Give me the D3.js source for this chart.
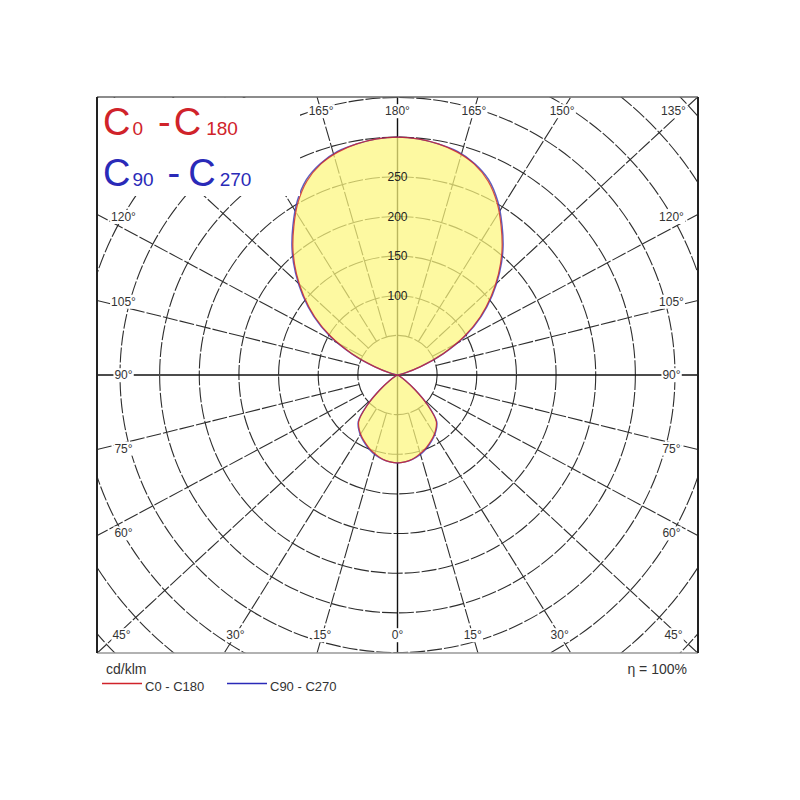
<!DOCTYPE html>
<html><head><meta charset="utf-8">
<script src="https://cdn.jsdelivr.net/npm/d3@7"></script>
<style>
body{margin:0;background:#fff;}
text{font-family:"Liberation Sans",Arial,sans-serif;}
</style>
</head><body>
<svg id="chart" width="800" height="800"></svg>
<script>
// gamma angles (deg from nadir), 5° steps
const gammaAngles = [0,5,10,15,20,25,30,35,40,45,50,55,60,65,70,75,80,85,90,95,100,105,110,115,120,125,130,135,140,145,150,155,160,165,170,175,180];
// intensities cd/klm
const c0c180  = [111,110,108,104,100,95,90,84,76,54,28,12,4,1,0,0,0,0,0,0,2,10,31,63,97,127,154,180,205,228,251,270,283,291,296,299,300];
const c90c270 = [111,110,108,105,101,96,91,85,77,55,29,12,4,1,0,0,0,0,0,0,2,10,31,64,99,129,156,182,207,230,253,272,284,292,296,299,300];
const gridValues = [50,100,150,200,250,300,350,400,450,500];
const radialLabels = [100,150,200,250];
const spokeAngles = [0,15,30,45,60,75,90,105,120,135,150,165,180,195,210,225,240,255,270,285,300,315,330,345];
const hiddenLabelAngles = [210,225]; // covered by title legend
const legendItems = [{name:"C0 - C180", color:"#d0232a"},{name:"C90 - C270", color:"#2a2ab8"}];
const unitLabel = "cd/klm";
const etaLabel = "η = 100%";

const svg = d3.select("#chart");
const frame = {x0:97, x1:698, y0:97, y1:653};
const cx = (frame.x0+frame.x1)/2, cy = (frame.y0+frame.y1)/2;
const r = d3.scaleLinear().domain([0,350]).range([0,277.5]);
const k = 1.08;
const rad = d => d*Math.PI/180;

svg.append("rect").attr("width",800).attr("height",800).attr("fill","#fff");
svg.append("defs").append("clipPath").attr("id","clip").append("rect")
  .attr("x",frame.x0).attr("y",frame.y0).attr("width",frame.x1-frame.x0).attr("height",frame.y1-frame.y0);

const g = svg.append("g").attr("clip-path","url(#clip)");
// grid circles
g.selectAll("circle.grid").data(gridValues).join("circle")
  .attr("cx",cx).attr("cy",cy).attr("r",d=>r(d))
  .attr("fill","none").attr("stroke","#2e2e2e").attr("stroke-width",1.1)
  .attr("stroke-dasharray","15,2");
// spokes
const dir = t => { const x = k*Math.sin(rad(t)), y = Math.cos(rad(t)); const n = Math.hypot(x,y); return [x/n,y/n]; };
g.selectAll("line.spoke").data(spokeAngles.filter(a=>a%90!==0)).join("line")
  .attr("x1",d=>cx+dir(d)[0]*r(50)).attr("y1",d=>cy+dir(d)[1]*r(50))
  .attr("x2",d=>cx+dir(d)[0]*900).attr("y2",d=>cy+dir(d)[1]*900)
  .attr("stroke","#2e2e2e").attr("stroke-width",1.1).attr("stroke-dasharray","15,2");
// axes
g.append("line").attr("x1",frame.x0).attr("x2",frame.x1).attr("y1",cy).attr("y2",cy).attr("stroke","#111").attr("stroke-width",1.4);
g.append("line").attr("x1",cx).attr("x2",cx).attr("y1",frame.y0).attr("y2",frame.y1).attr("stroke","#111").attr("stroke-width",1.4);

// curves
function fullCurve(vals){
  const pts = [];
  gammaAngles.forEach((a,i)=>pts.push({t:a,v:vals[i]}));
  for(let i=gammaAngles.length-2;i>0;i--) pts.push({t:360-gammaAngles[i], v:vals[i]});
  return pts;
}
const line = d3.lineRadial().angle(d=>Math.PI - rad(d.t)).radius(d=>r(d.v)).curve(d3.curveCatmullRomClosed.alpha(0.5));
const cg = svg.append("g").attr("transform",`translate(${cx},${cy})`);
cg.append("path").attr("d",line(fullCurve(c90c270))).attr("fill","rgb(252,246,125)").attr("fill-opacity",0.72);
cg.append("path").attr("d",line(fullCurve(c90c270))).attr("fill","none").attr("stroke",legendItems[1].color).attr("stroke-width",1.4).attr("opacity",0.75);
cg.append("path").attr("d",line(fullCurve(c0c180))).attr("fill","none").attr("stroke",legendItems[0].color).attr("stroke-width",1.2).attr("opacity",0.8);

// radial labels
svg.selectAll("text.rl").data(radialLabels).join("text")
  .attr("x",cx).attr("y",d=>cy-r(d)).attr("dy","0.35em").attr("text-anchor","middle")
  .attr("font-size",12).attr("fill","#222").text(d=>d);

// angle labels
function labelPos(t){
  const s = Math.sin(rad(t)), c = Math.cos(rad(t));
  const m = ((t%180)+180)%180;
  if(m>=60 && m<=120){
    const sx = s>0?1:-1;
    return [cx+sx*274, cy+274*c/Math.abs(s)];
  }
  const top = c<0;
  const hh = top?264:260;
  let dx = hh*k*Math.abs(s/c);
  dx = Math.min(dx,276);
  return [cx+(s>=0?1:-1)*dx, cy+(top?-hh:hh)];
}
const lab = svg.append("g");
spokeAngles.filter(a=>!hiddenLabelAngles.includes(a)).forEach(a=>{
  const [x,y] = labelPos(a);
  const txt = (a<=180?a:360-a)+"°";
  const t = lab.append("text").attr("x",x).attr("y",y).attr("dy","0.35em").attr("text-anchor","middle")
    .attr("font-size",12).attr("fill","#333").text(txt);
  const bb = t.node().getBBox();
  lab.insert("rect","text").attr("x",bb.x-1).attr("y",bb.y).attr("width",bb.width+2).attr("height",bb.height).attr("fill","#fff");
});

// title legend box
svg.append("rect").attr("x",frame.x0+1).attr("y",frame.y0+1).attr("width",202).attr("height",98).attr("fill","#fff");
const t1 = svg.append("text").attr("x",103).attr("y",135).attr("fill",legendItems[0].color);
t1.append("tspan").attr("font-size",38).text("C");
t1.append("tspan").attr("font-size",19).attr("dx",2).text("0");
t1.append("tspan").attr("font-size",38).attr("dx",15).text("-");
t1.append("tspan").attr("font-size",38).attr("dx",3).text("C");
t1.append("tspan").attr("font-size",19).attr("dx",5).text("180");
const t2 = svg.append("text").attr("x",103).attr("y",186).attr("fill",legendItems[1].color);
t2.append("tspan").attr("font-size",38).text("C");
t2.append("tspan").attr("font-size",19).attr("dx",2).text("90");
t2.append("tspan").attr("font-size",38).attr("dx",14).text("-");
t2.append("tspan").attr("font-size",38).attr("dx",8).text("C");
t2.append("tspan").attr("font-size",19).attr("dx",4).text("270");

// frame
svg.append("line").attr("x1",frame.x0).attr("x2",frame.x1).attr("y1",frame.y0).attr("y2",frame.y0).attr("stroke","#666").attr("stroke-width",1.5);
svg.append("line").attr("x1",frame.x0).attr("x2",frame.x1).attr("y1",frame.y1).attr("y2",frame.y1).attr("stroke","#999").attr("stroke-width",1.5);
svg.append("line").attr("x1",frame.x0).attr("x2",frame.x0).attr("y1",frame.y0).attr("y2",frame.y1).attr("stroke","#222").attr("stroke-width",2);
svg.append("line").attr("x1",frame.x1).attr("x2",frame.x1).attr("y1",frame.y0).attr("y2",frame.y1).attr("stroke","#222").attr("stroke-width",2);

// bottom legend
svg.append("text").attr("x",106).attr("y",674).attr("font-size",14).attr("fill","#333").text(unitLabel);
svg.append("text").attr("x",687).attr("y",674).attr("text-anchor","end").attr("font-size",14).attr("fill","#333").text(etaLabel);
const lg = svg.append("g");
legendItems.forEach((d,i)=>{
  const x0 = 102 + i*125;
  lg.append("line").attr("x1",x0).attr("x2",x0+40).attr("y1",683.5).attr("y2",683.5).attr("stroke",d.color).attr("stroke-width",1.5);
  lg.append("text").attr("x",x0+43).attr("y",691).attr("font-size",13).attr("fill","#333").text(d.name);
});
</script>
</body></html>
